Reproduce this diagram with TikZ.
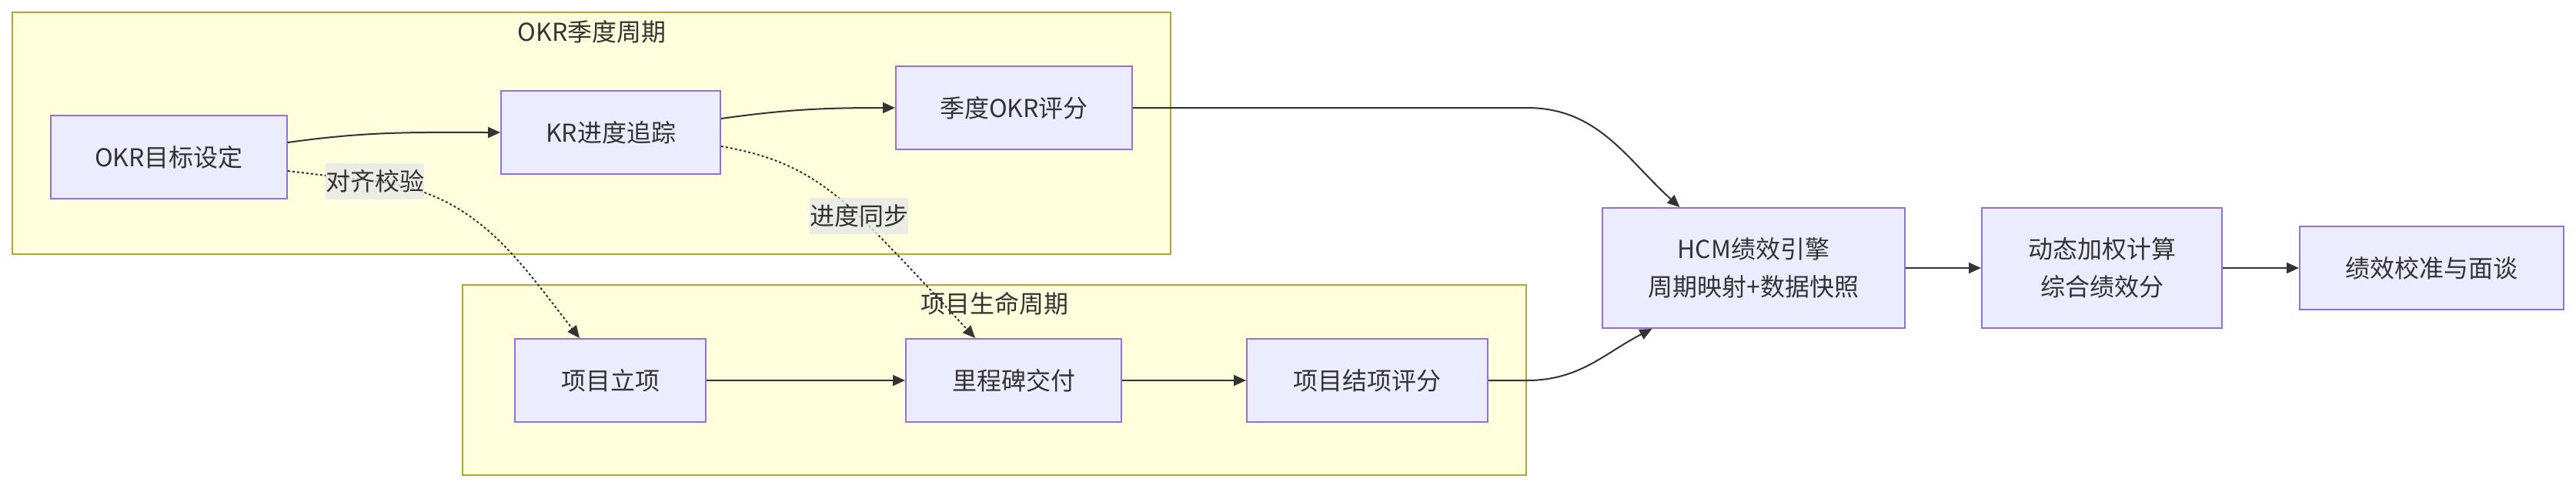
\documentclass[tikz,border=0pt]{standalone}
\usepackage{fontspec}
\usepackage{xcolor}
\usepackage{tikz}
\usetikzlibrary{arrows.meta,calc,positioning}
\newfontfamily\cjkfont{Noto Sans CJK SC}
\definecolor{nodefill}{HTML}{ECECFF}
\definecolor{nodeline}{HTML}{9370DB}
\definecolor{grpfill}{HTML}{FFFFDE}
\definecolor{grpline}{HTML}{AAAA33}
\definecolor{edgeline}{HTML}{333333}
\definecolor{lblfill}{HTML}{E8E8E8}

\begin{document}
\begin{tikzpicture}[x=1pt,y=1pt,node distance=49pt,
  every node/.style={font=\cjkfont\fontsize{16}{24.5}\selectfont,align=center,text=edgeline},
  box/.style={draw=nodeline,fill=nodefill,line width=1pt,minimum height=54pt,inner sep=0pt},
  grp/.style={draw=grpline,fill=grpfill,line width=1pt,inner sep=0pt},
  flow/.style={draw=edgeline,line width=1pt,-{Triangle[length=8pt,width=7pt]}},
  dotflow/.style={flow,dash pattern=on 1.5pt off 1.5pt},
  lbl/.style={fill=lblfill,fill opacity=.8,text opacity=1,inner xsep=0pt,inner ysep=0pt,minimum height=23.5pt}]
\useasboundingbox (0,0) rectangle (1673.5,317);
\node[grp,minimum width=752.5pt,minimum height=157pt] (okrgrp) at (384.25,230.5) {};
\node[grp,minimum width=691pt,minimum height=123.5pt] (prjgrp) at (646,70.25) {};
\node (okrttl) at (384.5,296.5) {OKR季度周期};
\node (prjttl) at (646,120) {项目生命周期};
\node[box,minimum width=153.5pt] (okr) at (109.75,215) {OKR目标设定};
\node[box,minimum width=142.5pt] (kr) at (396.75,231) {KR进度追踪};
\node[box,minimum width=153.5pt] (qscore) at (658.75,247) {季度OKR评分};
\node[box,minimum width=124pt] (kickoff) at (396.5,70) {项目立项};
\node[box,minimum width=140pt,right=129pt of kickoff] (milestone) {里程碑交付};
\node[box,minimum width=156.5pt,right=80.5pt of milestone] (closing) {项目结项评分};
\node[box,minimum width=196.5pt,minimum height=78pt] (hcm) at (1139.25,143) {HCM绩效引擎\\周期映射+数据快照};
\node[box,minimum width=156pt,minimum height=78pt,right=of hcm] (weight) {动态加权计算\\综合绩效分};
\node[box,minimum width=171.5pt,right=49.5pt of weight] (review) {绩效校准与面谈};
\coordinate (alignpt) at (243.5,199.25);
\coordinate (syncpt) at (558,177);
\draw[flow] ([yshift=9.5pt]okr.east) to[out=8,in=180] (kr.west);
\draw[flow] ([yshift=9pt]kr.east) to[out=8,in=180] (qscore.west);
\draw[flow] (qscore.east) -- ++(256,0) to[out=0,in=138] ([xshift=-48pt]hcm.north);
\draw[flow] (kickoff) -- (milestone);
\draw[flow] (milestone) -- (closing);
\draw[flow] (closing.east) -- ++(25,0) to[out=0,in=-153] ([xshift=-66pt]hcm.south);
\draw[flow] (hcm) -- (weight);
\draw[flow] (weight) -- (review);
\draw[dotflow] ([yshift=-9pt]okr.east) to[out=-7,in=173] (alignpt) to[out=-6,in=128] ([xshift=-20pt]kickoff.north);
\draw[dotflow] ([yshift=-9pt]kr.east) to[out=-10,in=137] (syncpt) to[out=-45,in=133] ([xshift=-25pt]milestone.north);
\node[lbl] (alignlbl) at (alignpt) {对齐校验};
\node[lbl] (synclbl) at (syncpt) {进度同步};
\end{tikzpicture}
\end{document}
